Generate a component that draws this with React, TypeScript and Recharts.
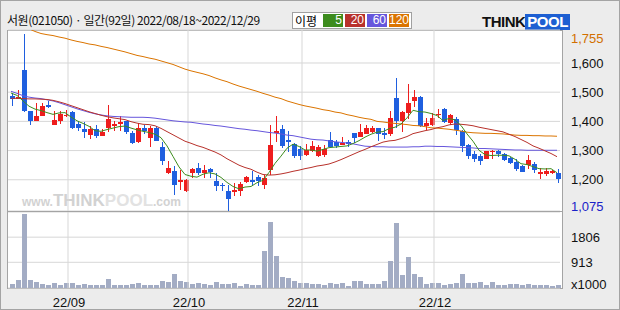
import React from "react";
import { ComposedChart, Bar, Line, XAxis, YAxis, CartesianGrid, ReferenceLine } from "recharts";

// trading days 2022/08/18 ~ 2022/12/29 (92일)
const DATES = [
  "08/18", "08/19", "08/22", "08/23", "08/24", "08/25", "08/26", "08/29", "08/30", "08/31",
  "09/01", "09/02", "09/05", "09/06", "09/07", "09/08", "09/13", "09/14", "09/15", "09/16",
  "09/19", "09/20", "09/21", "09/22", "09/23", "09/26", "09/27", "09/28", "09/29", "09/30",
  "10/04", "10/05", "10/06", "10/07", "10/11", "10/12", "10/13", "10/14", "10/17", "10/18",
  "10/19", "10/20", "10/21", "10/24", "10/25", "10/26", "10/27", "10/28", "10/31",
  "11/01", "11/02", "11/03", "11/04", "11/07", "11/08", "11/09", "11/10", "11/11", "11/14",
  "11/15", "11/16", "11/17", "11/18", "11/21", "11/22", "11/23", "11/24", "11/25", "11/28",
  "11/29", "11/30",
  "12/01", "12/02", "12/05", "12/06", "12/07", "12/08", "12/09", "12/12", "12/13", "12/14",
  "12/15", "12/16", "12/19", "12/20", "12/21", "12/22", "12/23", "12/26", "12/27", "12/28",
  "12/29",
];

const OPEN = [
  1488, 1477, 1577, 1435, 1402, 1419, 1457, 1389, 1402, 1417,
  1432, 1391, 1374, 1354, 1374, 1351, 1379, 1385, 1391, 1400,
  1360, 1328, 1379, 1343, 1377, 1313, 1223, 1229, 1194, 1162,
  1223, 1242, 1223, 1237, 1197, 1182, 1162, 1158, 1163, 1194,
  1200, 1208, 1181, 1234, 1359, 1375, 1336, 1322, 1305, 1285,
  1299, 1280, 1286, 1335, 1331, 1320, 1331, 1360, 1346, 1357,
  1363, 1377, 1360, 1357, 1480, 1402, 1429, 1470, 1485, 1385,
  1389, 1421, 1442, 1394, 1409, 1368, 1318, 1288, 1282, 1272,
  1295, 1299, 1288, 1274, 1260, 1248, 1249, 1254, 1221, 1219,
  1223, 1223,
];
const HIGH = [
  1497, 1506, 1699, 1436, 1463, 1463, 1471, 1434, 1437, 1440,
  1434, 1400, 1397, 1385, 1389, 1374, 1455, 1400, 1417, 1402,
  1366, 1394, 1389, 1383, 1383, 1331, 1265, 1246, 1234, 1203,
  1242, 1257, 1251, 1242, 1223, 1189, 1183, 1189, 1192, 1214,
  1229, 1217, 1215, 1389, 1419, 1389, 1366, 1326, 1314, 1322,
  1334, 1320, 1320, 1363, 1337, 1346, 1335, 1360, 1391, 1386,
  1383, 1377, 1377, 1434, 1549, 1434, 1528, 1509, 1488, 1410,
  1429, 1443, 1446, 1425, 1414, 1371, 1322, 1299, 1288, 1299,
  1303, 1303, 1291, 1277, 1272, 1251, 1286, 1260, 1240, 1242,
  1234, 1237,
];
const LOW = [
  1451, 1475, 1432, 1389, 1400, 1418, 1446, 1387, 1394, 1416,
  1374, 1366, 1343, 1341, 1343, 1349, 1363, 1366, 1366, 1357,
  1320, 1326, 1357, 1311, 1331, 1251, 1221, 1145, 1166, 1160,
  1209, 1217, 1208, 1208, 1162, 1160, 1075, 1143, 1143, 1189,
  1177, 1179, 1166, 1217, 1331, 1310, 1295, 1274, 1265, 1282,
  1295, 1278, 1280, 1309, 1311, 1318, 1311, 1326, 1345, 1354,
  1360, 1334, 1341, 1349, 1377, 1362, 1409, 1451, 1382, 1370,
  1386, 1411, 1394, 1389, 1354, 1295, 1272, 1263, 1251, 1271,
  1272, 1280, 1265, 1254, 1232, 1226, 1238, 1221, 1203, 1214,
  1221, 1189,
];
const CLOSE = [
  1477, 1482, 1434, 1400, 1417, 1451, 1448, 1405, 1425, 1423,
  1376, 1379, 1362, 1374, 1351, 1362, 1409, 1391, 1397, 1363,
  1326, 1379, 1366, 1377, 1334, 1265, 1240, 1183, 1200, 1200,
  1238, 1223, 1235, 1226, 1179, 1178, 1135, 1166, 1185, 1209,
  1192, 1197, 1206, 1320, 1366, 1317, 1329, 1280, 1280, 1303,
  1317, 1312, 1306, 1312, 1314, 1326, 1323, 1343, 1362, 1377,
  1377, 1357, 1354, 1411, 1402, 1432, 1463, 1483, 1385, 1395,
  1411, 1425, 1397, 1421, 1371, 1314, 1282, 1272, 1265, 1297,
  1299, 1288, 1269, 1257, 1237, 1226, 1269, 1234, 1226, 1229,
  1231, 1202,
];

const MA5 = [
  1497, 1489, 1470, 1452, 1442, 1437, 1430, 1424, 1429, 1430,
  1415, 1402, 1393, 1383, 1368, 1366, 1372, 1377, 1382, 1384,
  1377, 1371, 1366, 1362, 1356, 1344, 1316, 1280, 1244, 1218,
  1212, 1209, 1219, 1224, 1220, 1208, 1191, 1177, 1169, 1175,
  1177, 1190, 1198, 1225, 1256, 1281, 1308, 1322, 1314, 1302,
  1302, 1298, 1304, 1310, 1312, 1314, 1316, 1324, 1334, 1346,
  1356, 1363, 1365, 1375, 1380, 1391, 1412, 1438, 1433, 1432,
  1427, 1420, 1403, 1410, 1405, 1386, 1357, 1332, 1301, 1286,
  1283, 1284, 1284, 1282, 1270, 1255, 1252, 1245, 1238, 1237,
  1238, 1224,
];
const MA20 = [
  1479, 1479, 1478, 1477, 1477, 1476, 1475, 1472, 1467, 1461,
  1454, 1447, 1440, 1433, 1427, 1421, 1416, 1412, 1409, 1406,
  1399, 1394, 1390, 1389, 1385, 1376, 1365, 1354, 1343, 1332,
  1325, 1317, 1311, 1303, 1295, 1285, 1272, 1261, 1250, 1242,
  1236, 1226, 1218, 1216, 1217, 1220, 1224, 1229, 1233, 1238,
  1242, 1247, 1250, 1254, 1261, 1269, 1278, 1287, 1296, 1304,
  1313, 1321, 1329, 1333, 1335, 1341, 1348, 1358, 1363, 1368,
  1372, 1378, 1382, 1388, 1391, 1390, 1388, 1385, 1380, 1376,
  1372, 1368, 1364, 1356, 1348, 1338, 1328, 1316, 1308, 1299,
  1290, 1279,
];
const MA60 = [
  1503, 1496, 1488, 1483, 1480, 1478, 1474, 1470, 1464, 1457,
  1450, 1443, 1437, 1431, 1426, 1422, 1419, 1417, 1416, 1415,
  1414, 1414, 1414, 1413, 1411, 1408, 1405, 1402, 1400, 1398,
  1397, 1394, 1391, 1389, 1386, 1384, 1381, 1378, 1375, 1373,
  1370, 1368, 1365, 1362, 1360, 1357, 1353, 1351, 1347, 1343,
  1339, 1337, 1336, 1333, 1330, 1328, 1326, 1323, 1319, 1315,
  1314, 1313, 1313, 1312, 1312, 1312, 1312, 1313, 1313, 1315,
  1315, 1314, 1314, 1313, 1312, 1311, 1310, 1309, 1307, 1307,
  1306, 1305, 1304, 1303, 1302, 1302, 1301, 1301, 1301, 1301,
  1301, 1301,
];
const MA120 = [
  1755, 1742, 1729, 1717, 1708, 1701, 1697, 1694, 1689, 1685,
  1679, 1674, 1670, 1665, 1662, 1657, 1653, 1648, 1643, 1638,
  1632, 1626, 1622, 1617, 1613, 1607, 1601, 1595, 1587, 1579,
  1573, 1568, 1563, 1557, 1549, 1542, 1536, 1528, 1521, 1515,
  1509, 1503, 1496, 1490, 1483, 1478, 1470, 1464, 1458, 1453,
  1449, 1445, 1440, 1437, 1432, 1429, 1423, 1419, 1414, 1410,
  1407, 1400, 1398, 1395, 1393, 1391, 1389, 1386, 1385, 1382,
  1378, 1377, 1375, 1373, 1370, 1367, 1363, 1361, 1360, 1359,
  1359, 1358, 1357, 1355, 1353, 1352, 1352, 1351, 1351, 1350,
  1350, 1349,
];

// volume, x1000
const VOLUME = [
  142, 284, 2629, 284, 224, 142, 107, 178, 107, 160,
  178, 107, 142, 107, 107, 107, 320, 107, 107, 107,
  150, 178, 107, 107, 107, 250, 224, 497, 250, 213,
  142, 178, 142, 107, 213, 142, 142, 178, 60, 142,
  107, 107, 1315, 2334, 1137, 391, 355, 250, 178, 178,
  142, 142, 107, 178, 142, 178, 60, 250, 250, 142,
  142, 142, 250, 960, 2322, 462, 1101, 509, 391, 142,
  178, 178, 107, 142, 178, 497, 178, 178, 213, 107,
  213, 107, 107, 142, 142, 107, 142, 107, 107, 107,
  71, 107,
];

const PRICE_TICKS = [1200, 1300, 1400, 1500, 1600];
const VOLUME_TICKS = [913, 1806];
const MONTH_STARTS = ["09/01", "10/04", "11/01", "12/01"];
const MONTH_LABELS = ["22/09", "22/10", "22/11", "22/12"];
const PRICE_MAX = 1755;
const PRICE_MIN = 1075;
const MA_PERIODS = ["5", "20", "60", "120"];

const UP = "#ee1d1d";
const DOWN = "#1f5fdf";
const MA_COLORS = ["#3d8c1e", "#b8312b", "#6656dc", "#db7400"];
const GRID = "#d7d7d7";
const VOL_COLOR = "#a3acc4";
const FONT = "'Liberation Sans', Arial, sans-serif";

const rows = DATES.map((d, i) => ({
  d,
  open: OPEN[i],
  high: HIGH[i],
  low: LOW[i],
  close: CLOSE[i],
  range: [LOW[i], HIGH[i]],
  ma5: MA5[i],
  ma20: MA20[i],
  ma60: MA60[i],
  ma120: MA120[i],
  vol: VOLUME[i],
}));

const comma = (v: number) => String(v).replace(/\B(?=(\d{3})+(?!\d))/g, ",");

function Candle(props: any) {
  const { x, y, width, height, payload } = props;
  if (x == null || y == null) return null;
  const { open, close, high, low } = payload;
  const color = close >= open ? UP : DOWN;
  const k = high === low ? 0 : height / (high - low);
  const yOf = (v: number) => y + (high - v) * k;
  const c = Math.ceil(x + width / 2 - 0.01);
  const top = Math.round(yOf(Math.max(open, close)));
  const bot = Math.round(yOf(Math.min(open, close)));
  return (
    <g>
      <rect x={c} y={Math.round(y)} width={1} height={Math.max(1, Math.round(height))} fill={color} />
      <rect x={c - 2} y={top} width={5} height={Math.max(1, bot - top)} fill={color} />
    </g>
  );
}

function VolBar(props: any) {
  const { x, y, width, height } = props;
  if (x == null || !height) return null;
  const c = Math.ceil(x + width / 2 - 0.01);
  return <rect x={c - 2} y={Math.round(y)} width={5} height={Math.round(y + height) - Math.round(y)} fill={VOL_COLOR} />;
}

function MonthTick({ x, y, payload }: any) {
  const k = MONTH_STARTS.indexOf(payload.value);
  return (
    <text x={x - 2} y={y + 17} textAnchor="middle" fontSize={13} fontFamily={FONT} fill="#111">
      {MONTH_LABELS[k]}
    </text>
  );
}

export default function App() {
  return (
    <div
      style={{
        position: "absolute",
        left: 0,
        top: 0,
        width: 620,
        height: 310,
        boxSizing: "border-box",
        background: "#ececec",
        border: "1px solid #a4a4a4",
        fontFamily: FONT,
        overflow: "hidden",
      }}
    >
      <div
        style={{
          position: "absolute",
          left: 6,
          top: 10,
          fontSize: 12,
          lineHeight: "18px",
          letterSpacing: -0.45,
          fontFamily: "'Noto Sans CJK KR', sans-serif",
          color: "#111",
          whiteSpace: "nowrap",
        }}
      >
        서원(021050) · 일간(92일) 2022/08/18~2022/12/29
      </div>

      <div
        style={{
          position: "absolute",
          left: 291,
          top: 11,
          width: 120,
          height: 17,
          boxSizing: "border-box",
          border: "1px solid #a0a0a0",
          background: "#fff",
          display: "flex",
          alignItems: "center",
          gap: 2,
          paddingLeft: 2,
        }}
      >
        <span style={{ fontSize: 12, fontFamily: "'Noto Sans CJK KR', sans-serif", width: 26, lineHeight: "14px" }}>
          이평
        </span>
        {MA_PERIODS.map((p, i) => (
          <span
            key={p}
            style={{
              background: MA_COLORS[i],
              color: "#fff",
              width: 20,
              height: 13,
              fontSize: 12,
              lineHeight: "13px",
              textAlign: "right",
              paddingRight: 1,
              boxSizing: "border-box",
            }}
          >
            {p}
          </span>
        ))}
      </div>

      <div style={{ position: "absolute", left: 481, top: 12, display: "flex", alignItems: "center", height: 17 }}>
        <span style={{ fontWeight: 900, fontSize: 15, color: "#111", letterSpacing: -0.5 }}>THINK</span>
        <span
          style={{
            fontWeight: 900,
            fontSize: 15,
            color: "#fff",
            background: "#1d5fd2",
            padding: "0 2px",
            lineHeight: "16px",
            letterSpacing: -0.5,
          }}
        >
          POOL
        </span>
      </div>

      {/* plot box */}
      <div
        style={{
          position: "absolute",
          left: 6,
          top: 29,
          width: 556,
          height: 259,
          boxSizing: "border-box",
          border: "1px solid #a4a4a4",
          background: "#fff",
        }}
      />
      <div style={{ position: "absolute", left: 6, top: 210, width: 556, height: 1, background: "#a4a4a4" }} />

      <div
        style={{
          position: "absolute",
          left: 21,
          top: 190,
          color: "#d2d2d2",
          whiteSpace: "nowrap",
          display: "flex",
          alignItems: "baseline",
        }}
      >
        <span style={{ fontSize: 12, fontWeight: 700 }}>www.</span>
        <span style={{ fontSize: 17, fontWeight: 900 }}>THINK</span>
        <span style={{ fontSize: 17, fontWeight: 900, color: "#e2e2e2" }}>POOL</span>
        <span style={{ fontSize: 12, fontWeight: 700 }}>.com</span>
      </div>

      <div style={{ position: "absolute", left: -1, top: -1 }}>
        <ComposedChart
          width={620}
          height={211}
          data={rows}
          margin={{ top: 30, right: 0, bottom: 0, left: 8 }}
          barCategoryGap={0}
        >
          <CartesianGrid vertical={false} stroke={GRID} />
          {MONTH_STARTS.map((m) => (
            <ReferenceLine key={m} x={m} position="start" stroke={GRID} />
          ))}
          <XAxis dataKey="d" hide />
          <YAxis
            orientation="right"
            width={60}
            domain={[1093, 1713]}
            allowDataOverflow
            ticks={PRICE_TICKS}
            axisLine={false}
            tickLine={false}
            tickSize={0}
            tickMargin={11}
            tickFormatter={comma}
            tick={{ fontSize: 13, fill: "#111", fontFamily: FONT }}
          />
          <Line dataKey="ma120" stroke={MA_COLORS[3]} strokeWidth={1} dot={false} isAnimationActive={false} />
          <Line dataKey="ma60" stroke={MA_COLORS[2]} strokeWidth={1} dot={false} isAnimationActive={false} />
          <Line dataKey="ma20" stroke={MA_COLORS[1]} strokeWidth={1} dot={false} isAnimationActive={false} />
          <Line dataKey="ma5" stroke={MA_COLORS[0]} strokeWidth={1} dot={false} isAnimationActive={false} />
          <Bar dataKey="range" barSize={5} shape={<Candle />} isAnimationActive={false} />
        </ComposedChart>
      </div>

      <div style={{ position: "absolute", left: 570, top: 30, fontSize: 13, color: "#d27000" }}>{comma(PRICE_MAX)}</div>
      <div style={{ position: "absolute", left: 570, top: 198, fontSize: 13, color: "#1a22c8" }}>{comma(PRICE_MIN)}</div>

      <div style={{ position: "absolute", left: -1, top: 211 }}>
        <ComposedChart
          width={620}
          height={98}
          data={rows}
          margin={{ top: 0, right: 0, bottom: 0, left: 8 }}
          barCategoryGap={0}
        >
          <CartesianGrid vertical={false} stroke={GRID} />
          {MONTH_STARTS.map((m) => (
            <ReferenceLine key={m} x={m} position="start" stroke={GRID} />
          ))}
          <XAxis
            dataKey="d"
            ticks={MONTH_STARTS}
            interval={0}
            axisLine={false}
            tickLine={false}
            tickSize={0}
            height={22}
            tick={<MonthTick />}
          />
          <YAxis
            orientation="right"
            width={60}
            domain={[0, 2700]}
            allowDataOverflow
            ticks={VOLUME_TICKS}
            axisLine={false}
            tickLine={false}
            tickSize={0}
            tickMargin={11}
            tick={{ fontSize: 13, fill: "#111", fontFamily: FONT }}
          />
          <Bar dataKey="vol" barSize={5} shape={<VolBar />} isAnimationActive={false} />
        </ComposedChart>
      </div>

      <div style={{ position: "absolute", left: 570, top: 276, fontSize: 13, color: "#111" }}>x1000</div>
    </div>
  );
}
